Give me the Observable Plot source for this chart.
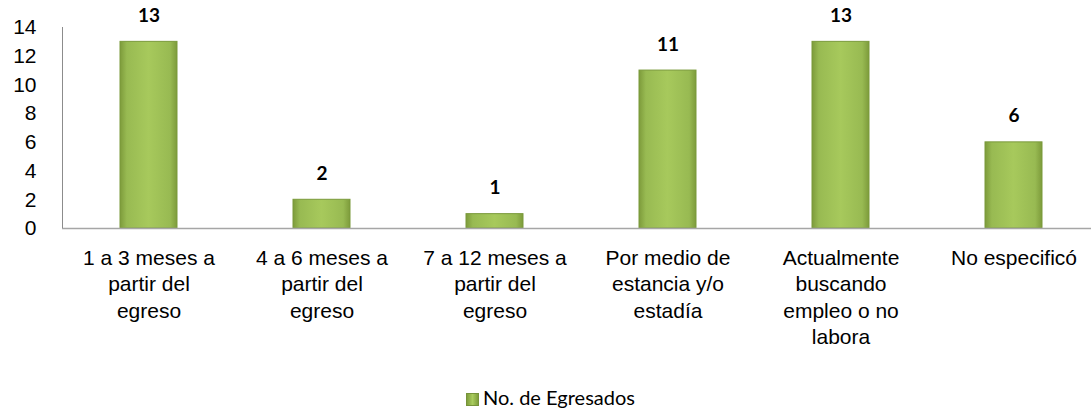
<!DOCTYPE html>
<html>
<head>
<meta charset="utf-8">
<script src="https://cdn.jsdelivr.net/npm/d3@7"></script>
<script src="https://cdn.jsdelivr.net/npm/@observablehq/plot@0.6"></script>
<style>
  body { margin: 0; background: #fff; }
  #legend { text-align: center; font-family: Lato, "Open Sans", sans-serif; font-size: 20px; color: #000; padding-top: 10px; padding-left: 10px; }
  #legend .sw { display: inline-block; width: 13px; height: 13px; background: linear-gradient(to right, #7f9e3c, #a9cc5e 50%, #7f9e3c); border: 1px solid #76933a; vertical-align: -1px; margin-right: 4px; box-sizing: border-box; }
</style>
</head>
<body>
<div id="chart"></div>
<div id="legend"><span class="sw"></span>No. de Egresados</div>
<script>
const categories = [
  "1 a 3 meses a partir del egreso",
  "4 a 6 meses a partir del egreso",
  "7 a 12 meses a partir del egreso",
  "Por medio de estancia y/o estadía",
  "Actualmente buscando empleo o no labora",
  "No especificó"
];
const tickLabels = [
  "1 a 3 meses a\npartir del\negreso",
  "4 a 6 meses a\npartir del\negreso",
  "7 a 12 meses a\npartir del\negreso",
  "Por medio de\nestancia y/o\nestadía",
  "Actualmente\nbuscando\nempleo o no\nlabora",
  "No especificó"
];
const values = [13, 2, 1, 11, 13, 6];
const yTicks = [0, 2, 4, 6, 8, 10, 12, 14];
const seriesName = "No. de Egresados";

const data = categories.map((c, i) => ({category: c, value: values[i], label: tickLabels[i]}));

const chart = Plot.plot({
  width: 1091,
  height: 375,
  marginLeft: 62,
  marginRight: 0,
  marginTop: 27,
  marginBottom: 147,
  style: {fontFamily: "'Liberation Sans', Arial, sans-serif", fontSize: "21px", color: "#000", background: "#fff"},
  x: {domain: categories, range: [61, 1102], paddingInner: 0.67, paddingOuter: 0.335, label: null},
  y: {domain: [0, 14], label: null},
  marks: [
    Plot.axisY({ticks: yTicks, tickSize: 0, tickPadding: 26, fontSize: 21, label: null}),
    Plot.barY(data, {x: "category", y: "value", fill: "url(#barGrad)", stroke: "#7a9a3b", strokeWidth: 1}),
    Plot.ruleY([0], {stroke: "#a6a6a6", strokeWidth: 1.5}),
    Plot.axisX({tickSize: 0, tickPadding: 18, fontSize: 21, lineHeight: 1.25, lineAnchor: "top",
      tickFormat: d => tickLabels[categories.indexOf(d)], label: null}),
    Plot.text(data, {x: "category", y: "value", text: d => String(d.value), dy: -26,
      fontFamily: "Lato, 'Open Sans', sans-serif", fontWeight: "bold", fontSize: 19, fill: "#000"})
  ]
});

const svgns = "http://www.w3.org/2000/svg";
const defs = document.createElementNS(svgns, "defs");
defs.innerHTML = `
  <linearGradient id="barGrad" x1="0" x2="1" y1="0" y2="0">
    <stop offset="0" stop-color="#7d9b3b"/>
    <stop offset="0.12" stop-color="#98ba52"/>
    <stop offset="0.5" stop-color="#a7c95c"/>
    <stop offset="0.88" stop-color="#98ba52"/>
    <stop offset="1" stop-color="#7d9b3b"/>
  </linearGradient>`;
chart.insertBefore(defs, chart.firstChild);

const axisLine = document.createElementNS(svgns, "line");
axisLine.setAttribute("x1", 62.5); axisLine.setAttribute("x2", 62.5);
axisLine.setAttribute("y1", 27); axisLine.setAttribute("y2", 228);
axisLine.setAttribute("stroke", "#8c8c8c");
chart.appendChild(axisLine);

document.getElementById("chart").appendChild(chart);
</script>
</body>
</html>
